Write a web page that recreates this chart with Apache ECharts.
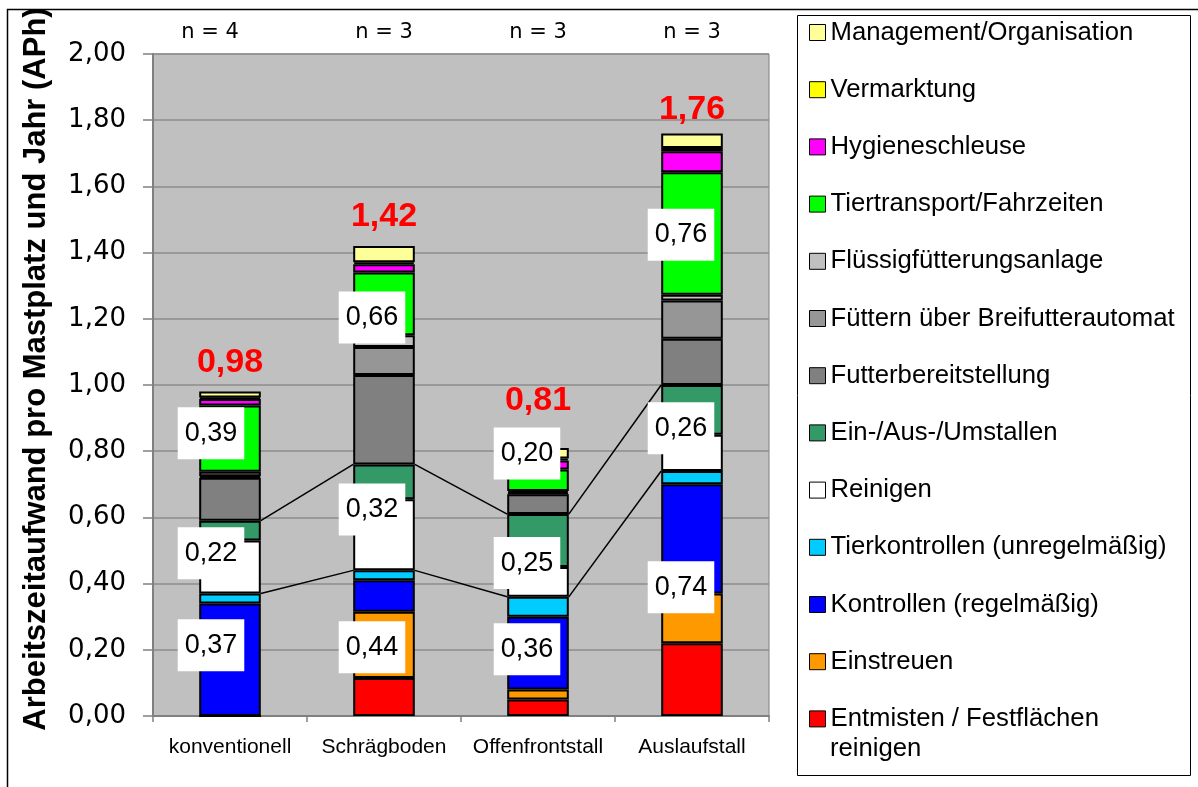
<!DOCTYPE html>
<html>
<head>
<meta charset="utf-8">
<script src="https://cdn.jsdelivr.net/npm/echarts@6/dist/echarts.min.js"></script>
<style>
  html, body { margin: 0; padding: 0; background: #fff; }
  #chart { width: 1198px; height: 787px; }
</style>
</head>
<body>
<div id="chart"></div>
<script>
// Housing systems and number of farms per system
const categories = ['konventionell', 'Schrägboden', 'Offenfrontstall', 'Auslaufstall'];
const sampleSizes = ['n = 4', 'n = 3', 'n = 3', 'n = 3'];

// Working time per fattening place and year (APh), one array per activity (bottom to top)
const entmisten            = [0,     0.115, 0.05,  0.22];
const einstreuen           = [0,     0.2,   0.03,  0.15];
const kontrollen           = [0.34,  0.095, 0.22,  0.33];
const tierkontrollen       = [0.03,  0.03,  0.06,  0.04];
const reinigen             = [0.16,  0.215, 0.09,  0.11];
const umstallen            = [0.06,  0.105, 0.16,  0.15];
const futterbereitstellung = [0.13,  0.27,  0.06,  0.14];
const breifutter           = [0.004, 0.085, 0.004, 0.115];
const fluessigfuetterung   = [0.014, 0.035, 0.006, 0.018];
const tiertransport        = [0.2,   0.19,  0.065, 0.37];
const hygieneschleuse      = [0.02,  0.025, 0.027, 0.063];
const vermarktung          = [0.004, 0.006, 0.006, 0.01];
const management           = [0.018, 0.049, 0.032, 0.044];

const activities = [
  { name: 'Entmisten / Festflächen reinigen', data: entmisten, color: '#FF0000' },
  { name: 'Einstreuen', data: einstreuen, color: '#FF9900' },
  { name: 'Kontrollen (regelmäßig)', data: kontrollen, color: '#0000FF' },
  { name: 'Tierkontrollen (unregelmäßig)', data: tierkontrollen, color: '#00CCFF' },
  { name: 'Reinigen', data: reinigen, color: '#FFFFFF' },
  { name: 'Ein-/Aus-/Umstallen', data: umstallen, color: '#339966' },
  { name: 'Futterbereitstellung', data: futterbereitstellung, color: '#808080' },
  { name: 'Füttern über Breifutterautomat', data: breifutter, color: '#969696' },
  { name: 'Flüssigfütterungsanlage', data: fluessigfuetterung, color: '#C0C0C0' },
  { name: 'Tiertransport/Fahrzeiten', data: tiertransport, color: '#00FF00' },
  { name: 'Hygieneschleuse', data: hygieneschleuse, color: '#FF00FF' },
  { name: 'Vermarktung', data: vermarktung, color: '#FFFF00' },
  { name: 'Management/Organisation', data: management, color: '#FFFF99' }
];

// Activity groups summarised in the white boxes: [first, last] index into activities
const groups = [[0, 3], [4, 5], [6, 12]];

// Layout: vertical anchor (axis value) of each group box, horizontal shift of boxes per bar,
// extra lift of the total label per bar, horizontal shift of the sample-size labels
const boxAnchor = [[0.214, 0.492, 0.854], [0.208, 0.624, 1.204], [0.202, 0.462, 0.793], [0.389, 0.869, 1.454]];
const boxShift = [-19, -12, -11, -11];
const totalLift = [0, 0, 18, -5];
const sampleShift = [-20, 0, 0, 0];

const fmt = v => v.toFixed(2).replace('.', ',');

const groupSum = (g, c) => {
  let s = 0;
  for (let k = groups[g][0]; k <= groups[g][1]; k++) s += activities[k].data[c];
  return s;
};
const totals = categories.map((_, c) => activities.reduce((s, a) => s + a.data[c], 0));
const cumBottom = categories.map((_, c) => groupSum(0, c));
const cumMiddle = categories.map((_, c) => groupSum(0, c) + groupSum(1, c));

const barSeries = activities.map((a, idx) => {
  const isTop = idx === activities.length - 1;
  return {
    name: a.name,
    type: 'bar',
    stack: 'total',
    barWidth: '40%',
    z: 2,
    itemStyle: { color: a.color, borderColor: '#000', borderWidth: 2 },
    emphasis: { disabled: true },
    data: isTop
      ? a.data.map((v, c) => ({ value: v, label: { offset: [0, -totalLift[c]] } }))
      : a.data,
    label: isTop ? {
      show: true,
      position: 'top',
      distance: 12,
      formatter: p => fmt(totals[p.dataIndex]),
      fontFamily: 'Liberation Sans, Arial, sans-serif',
      fontWeight: 'bold',
      fontSize: 34,
      color: '#FF0000'
    } : { show: false }
  };
});

// Connector lines between group boundaries of neighbouring bars
const connector = (cum) => ({
  type: 'custom',
  z: 3,
  silent: true,
  encode: { x: 0, y: 1 },
  data: [0, 1, 2].map(i => [i, cum[i], cum[i + 1]]),
  renderItem: (params, api) => {
    const i = api.value(0);
    const p1 = api.coord([i, api.value(1)]);
    const p2 = api.coord([i + 1, api.value(2)]);
    const half = api.size([1, 0])[0] * 0.2;
    return {
      type: 'line',
      shape: { x1: p1[0] + half, y1: p1[1], x2: p2[0] - half, y2: p2[1] },
      style: { stroke: '#000', lineWidth: 1.5 }
    };
  }
});

// Boxes showing the sum of each activity group
const boxData = [];
const boxText = [];
categories.forEach((_, c) => {
  groups.forEach((g, gi) => {
    boxData.push({ value: [c, boxAnchor[c][gi]], label: { offset: [boxShift[c], 0] } });
    boxText.push(fmt(groupSum(gi, c)));
  });
});

// The long legend entry wraps; its second line is set below the first
const longName = 'Entmisten / Festflächen reinigen';
const legendFormatter = name => name === longName ? 'Entmisten / Festflächen' : name;

const option = {
  backgroundColor: '#FFFFFF',
  animation: false,
  grid: {
    left: 153, top: 54, right: 429, bottom: 71,
    show: true, backgroundColor: '#C0C0C0', borderColor: '#808080', borderWidth: 1
  },
  legend: {
    orient: 'vertical',
    left: 809,
    top: 17,
    padding: 0,
    icon: 'rect',
    itemWidth: 16,
    itemHeight: 16,
    itemGap: 26.2,
    selectedMode: false,
    itemStyle: { borderColor: '#000', borderWidth: 1 },
    formatter: legendFormatter,
    textStyle: { fontFamily: 'Liberation Sans, Arial, sans-serif', fontSize: 25.7, lineHeight: 31, color: '#000' },
    data: activities.map(a => a.name).reverse()
  },
  xAxis: [
    {
      type: 'category',
      data: categories,
      position: 'bottom',
      axisLine: { lineStyle: { color: '#808080', width: 2 } },
      axisTick: { show: true, length: 6, interval: 0, lineStyle: { color: '#808080', width: 1.5 } },
      axisLabel: {
        margin: 21, interval: 0,
        fontFamily: 'Liberation Sans, Arial, sans-serif', fontSize: 21, color: '#000'
      },
      splitLine: { show: false }
    },
    {
      type: 'category',
      data: sampleSizes.map((s, c) => ({
        value: s,
        textStyle: { padding: sampleShift[c] < 0 ? [0, -2 * sampleShift[c], 0, 0] : [0, 0, 0, 2 * sampleShift[c]] }
      })),
      position: 'top',
      axisLine: { show: false },
      axisTick: { show: false },
      axisLabel: {
        margin: 11, interval: 0,
        fontFamily: 'DejaVu Sans, sans-serif', fontSize: 21, color: '#000'
      },
      splitLine: { show: false }
    }
  ],
  yAxis: {
    type: 'value',
    min: 0,
    max: 2,
    interval: 0.2,
    axisLine: { show: true, lineStyle: { color: '#808080', width: 2 } },
    axisTick: { show: true, length: 10, lineStyle: { color: '#808080', width: 1.5 } },
    axisLabel: {
      margin: 27,
      formatter: v => fmt(v),
      fontFamily: 'DejaVu Sans, sans-serif', fontSize: 26, color: '#000'
    },
    splitLine: { show: true, lineStyle: { color: '#8C8C8C', width: 1.5 } }
  },
  graphic: [
    {
      type: 'polyline', silent: true, z: 10,
      shape: { points: [[7.5, 787], [7.5, 9.5], [1198, 9.5]] },
      style: { stroke: '#000', lineWidth: 1.5, fill: null }
    },
    {
      type: 'rect', silent: true, z: -1,
      shape: { x: 797.5, y: 15.5, width: 393, height: 760 },
      style: { stroke: '#000', lineWidth: 1, fill: '#FFFFFF' }
    },
    {
      type: 'text', silent: true, z: 10,
      x: 830, y: 749,
      style: {
        text: 'reinigen',
        font: '25.7px "Liberation Sans", Arial, sans-serif',
        fill: '#000',
        textAlign: 'left', textVerticalAlign: 'middle',
        align: 'left', verticalAlign: 'middle'
      }
    },
    {
      type: 'text', silent: true, z: 10,
      x: 36, y: 369, rotation: Math.PI / 2,
      style: {
        text: 'Arbeitszeitaufwand pro Mastplatz und Jahr (APh)',
        font: 'bold 31px "Liberation Sans", Arial, sans-serif',
        fill: '#000',
        textAlign: 'center', textVerticalAlign: 'middle',
        align: 'center', verticalAlign: 'middle'
      }
    }
  ],
  series: [
    ...barSeries,
    connector(cumBottom),
    connector(cumMiddle),
    {
      type: 'scatter',
      z: 5,
      silent: true,
      symbolSize: 0,
      itemStyle: { opacity: 1 },
      data: boxData,
      label: {
        show: true,
        position: 'inside',
        opacity: 1,
        formatter: p => boxText[p.dataIndex],
        backgroundColor: '#FFFFFF',
        padding: [12, 7],
        lineHeight: 28,
        fontFamily: 'Liberation Sans, Arial, sans-serif',
        fontSize: 27,
        color: '#000'
      }
    }
  ]
};

const chart = echarts.init(document.getElementById('chart'), null, { renderer: 'canvas' });
chart.setOption(option);
</script>
</body>
</html>
